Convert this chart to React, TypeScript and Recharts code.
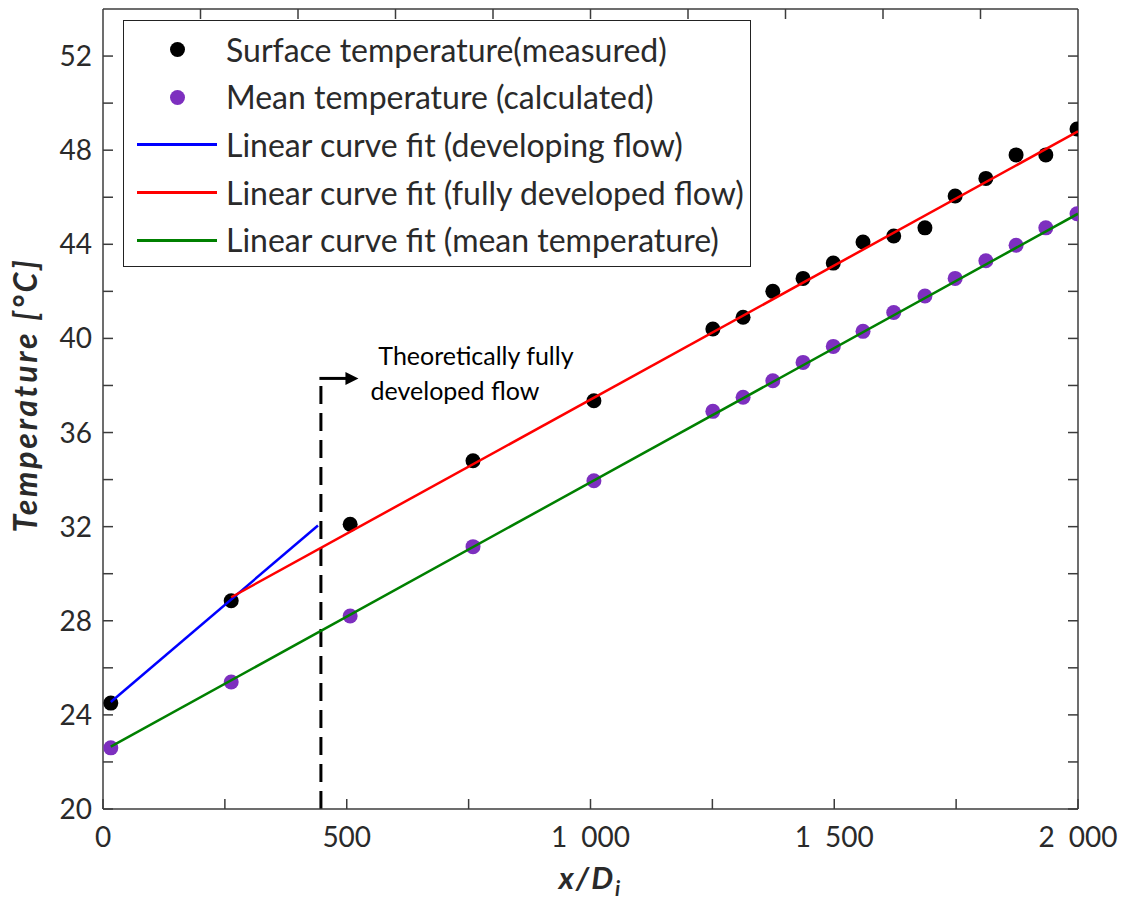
import React from 'react';
import {
  ComposedChart,
  XAxis,
  YAxis,
  Scatter,
  Line,
  ReferenceLine,
  ReferenceDot,
  Legend,
} from 'recharts';

// Axial positions x/Di of the thermocouple stations
const stations = [16, 263, 507, 759, 1007, 1251, 1313, 1374, 1436, 1498, 1559, 1622, 1686, 1748, 1811, 1873, 1934, 1998];
// Measured surface temperature [°C]
const surfaceTemp = [24.5, 28.85, 32.1, 34.8, 37.35, 40.4, 40.9, 42.0, 42.55, 43.2, 44.1, 44.35, 44.7, 46.05, 46.8, 47.8, 47.8, 48.9];
// Calculated mean fluid temperature [°C]
const meanTemp = [22.6, 25.4, 28.2, 31.15, 33.95, 36.9, 37.5, 38.2, 38.98, 39.66, 40.3, 41.1, 41.8, 42.55, 43.3, 43.96, 44.7, 45.3];

// Linear fits: end points (x, T)
const developingFitX = [16, 441];
const developingFitT = [24.55, 32.05];
const developedFitX = [263, 2000];
const developedFitT = [29.0, 48.8];
const meanFitX = [16, 2000];
const meanFitT = [22.65, 45.3];

// Start of theoretically fully developed flow
const entryLength = 447;
const entryMarkerTop = 38.3;
const arrowEndX = 524;

// Axis ticks
const xTicks = [0, 250, 500, 750, 1000, 1250, 1500, 1750, 2000];
const xTopTicks = [200, 400, 600, 800, 1000, 1200, 1400, 1600, 1800];
const yTicks = [20, 22, 24, 26, 28, 30, 32, 34, 36, 38, 40, 42, 44, 46, 48, 50, 52];

const legendItems = [
  { name: 'Surface temperature(measured)', color: '#000000', kind: 'dot' },
  { name: 'Mean temperature (calculated)', color: '#7d2fbf', kind: 'dot' },
  { name: 'Linear curve fit (developing flow)', color: '#0000ff', kind: 'line' },
  { name: 'Linear curve fit (fully developed flow)', color: '#ff0000', kind: 'line' },
  { name: 'Linear curve fit (mean temperature)', color: '#008000', kind: 'line' },
];

const surfaceData = stations.map((x, i) => ({ x, t: surfaceTemp[i] }));
const meanData = stations.map((x, i) => ({ x, t: meanTemp[i] }));
const developingData = developingFitX.map((x, i) => ({ x, t: developingFitT[i] }));
const developedData = developedFitX.map((x, i) => ({ x, t: developedFitT[i] }));
const meanFitData = meanFitX.map((x, i) => ({ x, t: meanFitT[i] }));

const FONT = 'Lato, "Open Sans", sans-serif';
const TEXT = '#2a2a2a';
const AXIS = '#3c3c3c';
const TICK_LEN = 10;
const LABEL_SIZE = 28;

// thousands separated by an en space: 1 000, 1 500 ...
const fmtThousands = (v: number) => {
  const s = String(v);
  return s.length > 3 ? s.slice(0, s.length - 3) + '\u2002' + s.slice(-3) : s;
};

const LeftTick = (props: any) => {
  const { x, y, payload } = props;
  const v = payload.value;
  return (
    <g>
      <line x1={x} x2={x + TICK_LEN} y1={y} y2={y} stroke={AXIS} strokeWidth={1.5} />
      {v % 4 === 0 && (
        <text x={x - 11} y={y} dy="0.36em" textAnchor="end" fontFamily={FONT} fontSize={LABEL_SIZE} fill={TEXT}>
          {v}
        </text>
      )}
    </g>
  );
};

const RightTick = (props: any) => {
  const { x, y } = props;
  return <line x1={x - TICK_LEN} x2={x} y1={y} y2={y} stroke={AXIS} strokeWidth={1.5} />;
};

const BottomTick = (props: any) => {
  const { x, y, payload } = props;
  const v = payload.value;
  return (
    <g>
      <line x1={x} x2={x} y1={y - TICK_LEN} y2={y} stroke={AXIS} strokeWidth={1.5} />
      {v % 500 === 0 && (
        <text x={x} y={y + 38} textAnchor="middle" fontFamily={FONT} fontSize={LABEL_SIZE} fill={TEXT}>
          {fmtThousands(v)}
        </text>
      )}
    </g>
  );
};

const TopTick = (props: any) => {
  const { x, y } = props;
  return <line x1={x} x2={x} y1={y} y2={y + TICK_LEN} stroke={AXIS} strokeWidth={1.5} />;
};

const XTitle = (props: any) => {
  const { viewBox } = props;
  const cx = viewBox.x + viewBox.width / 2;
  return (
    <text
      x={cx}
      y={viewBox.y + 80}
      textAnchor="middle"
      fontFamily={FONT}
      fontSize={31}
      letterSpacing={2}
      fontWeight="bold"
      fontStyle="italic"
      fill={TEXT}
    >
      x/D
      <tspan fontSize={21} dy={7}>i</tspan>
    </text>
  );
};

const YTitle = (props: any) => {
  const { viewBox } = props;
  const cx = 26;
  const cy = viewBox.y + viewBox.height / 2 - 14;
  return (
    <text
      x={cx}
      y={cy}
      transform={`rotate(-90 ${cx} ${cy})`}
      textAnchor="middle"
      dy="0.35em"
      fontFamily={FONT}
      fontSize={32}
      letterSpacing={2.8}
      fontWeight="bold"
      fontStyle="italic"
      fill={TEXT}
    >
      Temperature [°C]
    </text>
  );
};

const dotShape = (color: string) => (p: any) => <circle cx={p.cx} cy={p.cy} r={7.5} fill={color} />;

const ArrowShape = (props: any) => {
  const { x1, y1, x2, y2 } = props;
  return (
    <g>
      <line x1={x1 - 1.5} y1={y1} x2={x2 - 8} y2={y2} stroke="#000" strokeWidth={3} />
      <polygon points={`${x2},${y2} ${x2 - 13},${y2 - 6.5} ${x2 - 13},${y2 + 6.5}`} fill="#000" />
    </g>
  );
};

const AnnotationLabel = (props: any) => {
  const { viewBox } = props;
  const x = viewBox.cx ?? viewBox.x;
  const y = viewBox.cy ?? viewBox.y;
  return (
    <text fontFamily={FONT} fontSize={25} fill="#000" textAnchor="middle">
      <tspan x={x} y={y}>Theoretically fully</tspan>
      <tspan x={x - 21} dy={35}>developed flow</tspan>
    </text>
  );
};

const LegendBox = () => (
  <div
    style={{
      border: '1.5px solid #222',
      background: '#fff',
      width: 628,
      height: 247,
      boxSizing: 'border-box',
      paddingTop: 5,
      fontFamily: FONT,
    }}
  >
    {legendItems.map((item) => (
      <div key={item.name} style={{ display: 'flex', alignItems: 'center', height: 47.6 }}>
        <div style={{ width: 102, display: 'flex', justifyContent: 'center', alignItems: 'center' }}>
          {item.kind === 'dot' ? (
            <span style={{ width: 15, height: 15, borderRadius: '50%', background: item.color, display: 'inline-block', marginLeft: 4 }} />
          ) : (
            <span style={{ width: 80, height: 3, background: item.color, display: 'inline-block', marginLeft: 4 }} />
          )}
        </div>
        <span style={{ fontSize: 32, color: TEXT, whiteSpace: 'nowrap', lineHeight: 1 }}>{item.name}</span>
      </div>
    ))}
  </div>
);

export default function App() {
  return (
    <div style={{ position: 'absolute', left: 0, top: 0, background: '#fff' }}>
      <ComposedChart width={1128} height={901} margin={{ top: 4, right: 40, bottom: 32, left: 13 }}>
        <XAxis
          xAxisId="bottom"
          dataKey="x"
          type="number"
          domain={[0, 2000]}
          ticks={xTicks}
          allowDataOverflow
          orientation="bottom"
          height={60}
          tickSize={0}
          tickMargin={0}
          tickLine={false}
          axisLine={{ stroke: AXIS, strokeWidth: 1.5 }}
          tick={<BottomTick />}
          interval={0}
          label={<XTitle />}
        />
        <XAxis
          xAxisId="top"
          dataKey="x"
          type="number"
          domain={[0, 2000]}
          ticks={xTopTicks}
          allowDataOverflow
          orientation="top"
          height={5}
          tickSize={0}
          tickMargin={0}
          tickLine={false}
          axisLine={{ stroke: AXIS, strokeWidth: 1.5 }}
          tick={<TopTick />}
          interval={0}
        />
        <YAxis
          yAxisId="left"
          type="number"
          domain={[20, 54]}
          ticks={yTicks}
          allowDataOverflow
          orientation="left"
          width={90}
          tickSize={0}
          tickMargin={0}
          tickLine={false}
          axisLine={{ stroke: AXIS, strokeWidth: 1.5 }}
          tick={<LeftTick />}
          interval={0}
          label={<YTitle />}
        />
        <YAxis
          yAxisId="right"
          type="number"
          domain={[20, 54]}
          ticks={yTicks}
          allowDataOverflow
          orientation="right"
          width={10}
          tickSize={0}
          tickMargin={0}
          tickLine={false}
          axisLine={{ stroke: AXIS, strokeWidth: 1.5 }}
          tick={<RightTick />}
          interval={0}
        />

        <Scatter
          name="Surface temperature(measured)"
          data={surfaceData}
          dataKey="t"
          xAxisId="bottom"
          yAxisId="left"
          fill="#000"
          shape={dotShape('#000000')}
          isAnimationActive={false}
        />
        <Scatter
          name="Mean temperature (calculated)"
          data={meanData}
          dataKey="t"
          xAxisId="bottom"
          yAxisId="left"
          fill="#7d2fbf"
          shape={dotShape('#7d2fbf')}
          isAnimationActive={false}
        />
        <Line
          name="Linear curve fit (developing flow)"
          data={developingData}
          dataKey="t"
          xAxisId="bottom"
          yAxisId="left"
          type="linear"
          stroke="#0000ff"
          strokeWidth={2.5}
          dot={false}
          activeDot={false}
          zIndex={700}
          isAnimationActive={false}
        />
        <Line
          name="Linear curve fit (fully developed flow)"
          data={developedData}
          dataKey="t"
          xAxisId="bottom"
          yAxisId="left"
          type="linear"
          stroke="#ff0000"
          strokeWidth={2.5}
          dot={false}
          activeDot={false}
          zIndex={700}
          isAnimationActive={false}
        />
        <Line
          name="Linear curve fit (mean temperature)"
          data={meanFitData}
          dataKey="t"
          xAxisId="bottom"
          yAxisId="left"
          type="linear"
          stroke="#008000"
          strokeWidth={2.5}
          dot={false}
          activeDot={false}
          zIndex={700}
          isAnimationActive={false}
        />

        <ReferenceLine
          xAxisId="bottom"
          yAxisId="left"
          segment={[
            { x: entryLength, y: 20 },
            { x: entryLength, y: entryMarkerTop },
          ]}
          stroke="#000"
          strokeWidth={3}
          strokeDasharray="18 9"
          ifOverflow="extendDomain"
        />
        <ReferenceLine
          xAxisId="bottom"
          yAxisId="left"
          segment={[
            { x: entryLength, y: entryMarkerTop },
            { x: arrowEndX, y: entryMarkerTop },
          ]}
          shape={<ArrowShape />}
        />
        <ReferenceDot
          xAxisId="bottom"
          yAxisId="left"
          x={765}
          y={38.85}
          r={0}
          fill="none"
          stroke="none"
          label={<AnnotationLabel />}
        />

        <Legend
          layout="vertical"
          align="center"
          verticalAlign="middle"
          content={<LegendBox />}
          wrapperStyle={{ left: 123, top: 20, width: 'auto', height: 'auto' }}
        />
      </ComposedChart>
    </div>
  );
}
